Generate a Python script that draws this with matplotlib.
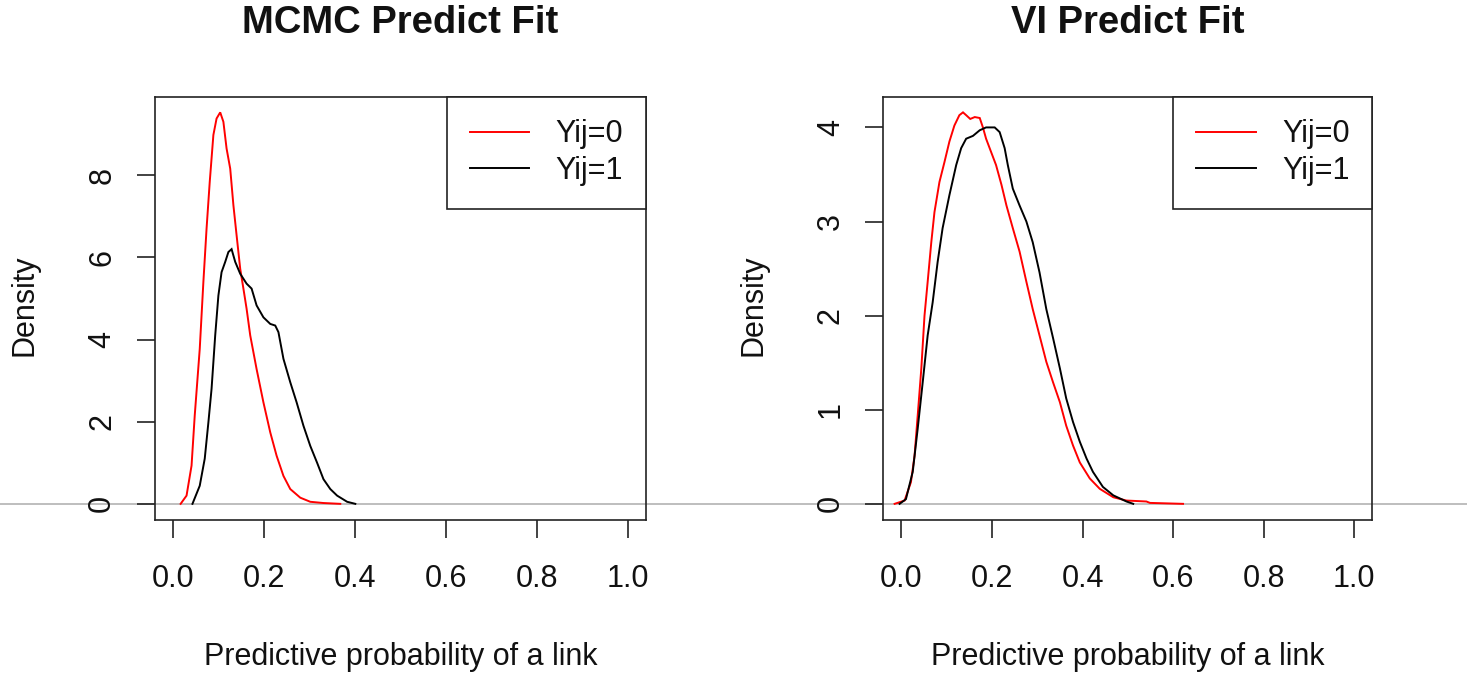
import matplotlib
matplotlib.use("Agg")
import matplotlib.pyplot as plt
from matplotlib.lines import Line2D
from matplotlib import transforms

plt.rcParams["font.family"] = ["Liberation Sans", "DejaVu Sans"]

# ---- density estimates (x = predictive probability, y = density) ----
mcmc_x0 = [0.017, 0.030, 0.041, 0.048, 0.059, 0.067, 0.074, 0.081, 0.089, 0.096,
           0.104, 0.111, 0.118, 0.126, 0.133, 0.140, 0.148, 0.155, 0.162, 0.170,
           0.184, 0.199, 0.214, 0.228, 0.243, 0.258, 0.280, 0.302, 0.331, 0.368]
mcmc_y0 = [0.00, 0.20, 0.93, 2.15, 3.77, 5.40, 6.70, 7.84, 8.98, 9.38,
           9.53, 9.30, 8.65, 8.16, 7.27, 6.54, 5.72, 5.24, 4.75, 4.10,
           3.28, 2.47, 1.74, 1.17, 0.68, 0.36, 0.15, 0.05, 0.02, 0.00]

mcmc_x1 = [0.043, 0.059, 0.070, 0.078, 0.085, 0.093, 0.100, 0.107, 0.115, 0.122,
           0.129, 0.137, 0.148, 0.162, 0.173, 0.184, 0.199, 0.214, 0.225, 0.232,
           0.243, 0.258, 0.272, 0.287, 0.302, 0.317, 0.331, 0.346, 0.361, 0.383, 0.401]
mcmc_y1 = [0.00, 0.44, 1.10, 1.98, 2.80, 4.10, 5.07, 5.64, 5.89, 6.13,
           6.20, 5.89, 5.60, 5.36, 5.24, 4.83, 4.54, 4.38, 4.34, 4.18,
           3.53, 2.96, 2.47, 1.90, 1.41, 1.00, 0.60, 0.36, 0.20, 0.05, 0.00]

vi_x0 = [-0.015, 0.007, 0.021, 0.029, 0.036, 0.044, 0.051, 0.058, 0.066, 0.073,
         0.084, 0.095, 0.106, 0.117, 0.128, 0.136, 0.143, 0.152, 0.162, 0.173,
         0.180, 0.187, 0.198, 0.209, 0.221, 0.232, 0.246, 0.261, 0.276, 0.290,
         0.305, 0.320, 0.335, 0.350, 0.364, 0.379, 0.394, 0.416, 0.438, 0.468,
         0.497, 0.541, 0.549, 0.622]
vi_y0 = [0.00, 0.035, 0.23, 0.51, 0.94, 1.44, 2.00, 2.36, 2.78, 3.10,
         3.42, 3.63, 3.85, 4.02, 4.13, 4.16, 4.13, 4.09, 4.11, 4.10,
         4.00, 3.88, 3.74, 3.60, 3.39, 3.17, 2.93, 2.68, 2.36, 2.07,
         1.79, 1.51, 1.29, 1.08, 0.83, 0.62, 0.44, 0.27, 0.16, 0.07,
         0.035, 0.025, 0.01, 0.00]

vi_x1 = [-0.004, 0.010, 0.025, 0.036, 0.047, 0.058, 0.069, 0.080, 0.091, 0.106,
         0.121, 0.132, 0.143, 0.158, 0.173, 0.187, 0.206, 0.217, 0.228, 0.235,
         0.246, 0.261, 0.276, 0.290, 0.305, 0.320, 0.335, 0.350, 0.364, 0.379,
         0.394, 0.409, 0.423, 0.445, 0.468, 0.497, 0.512]
vi_y1 = [0.00, 0.05, 0.34, 0.80, 1.29, 1.79, 2.14, 2.57, 2.93, 3.28,
         3.60, 3.78, 3.88, 3.91, 3.97, 4.00, 4.00, 3.95, 3.78, 3.60,
         3.35, 3.17, 3.00, 2.78, 2.46, 2.07, 1.76, 1.44, 1.12, 0.87,
         0.66, 0.48, 0.34, 0.18, 0.09, 0.025, 0.00]

titles = ["MCMC Predict Fit", "VI Predict Fit"]
legend_labels = ["Yij=0", "Yij=1"]
series_colors = ["#FF0000", "#000000"]
x_ticks = [0.0, 0.2, 0.4, 0.6, 0.8, 1.0]
x_tick_labels = ["0.0", "0.2", "0.4", "0.6", "0.8", "1.0"]
y_ticks_mcmc = [0, 2, 4, 6, 8]
y_ticks_vi = [0, 1, 2, 3, 4]
x_label = "Predictive probability of a link"
y_label = "Density"

W, H = 1467, 675
fig = plt.figure(figsize=(W / 100, H / 100), dpi=100)
fig.patch.set_facecolor("white")

FS = 22
LW = 1.4

panels = [
    dict(left=154.7, right=646.0, xs=[mcmc_x0, mcmc_x1], ys=[mcmc_y0, mcmc_y1],
         yticks=y_ticks_mcmc, title=titles[0]),
    dict(left=883.3, right=1372.3, xs=[vi_x0, vi_x1], ys=[vi_y0, vi_y1],
         yticks=y_ticks_vi, title=titles[1]),
]
top_px, bottom_px = 96.7, 519.5

axes = []
for p in panels:
    ax = fig.add_axes([p["left"] / W, 1 - bottom_px / H,
                       (p["right"] - p["left"]) / W, (bottom_px - top_px) / H])
    ax.set_facecolor("none")
    handles = []
    for xv, yv, c, lab in zip(p["xs"], p["ys"], series_colors, legend_labels):
        h, = ax.plot(xv, yv, color=c, lw=LW, label=lab, solid_joinstyle="miter")
        handles.append(h)
    ymax = max(max(v) for v in p["ys"])
    ax.set_xlim(-0.04, 1.04)
    ax.set_ylim(-0.04 * ymax, 1.04 * ymax)
    ax.set_xticks(x_ticks)
    ax.set_xticklabels(x_tick_labels)
    ax.set_yticks(p["yticks"])
    ax.set_yticklabels([str(t) for t in p["yticks"]], rotation=90, va="center")
    ax.tick_params(axis="both", length=13, width=1.2, color="#222222",
                   labelsize=FS, labelcolor="#111111")
    ax.tick_params(axis="x", pad=19)
    ax.tick_params(axis="y", pad=14)
    for s in ax.spines.values():
        s.set_linewidth(1.2)
        s.set_color("#222222")
    leg = ax.legend(handles=handles, loc="upper right", borderaxespad=0,
                    frameon=True, fancybox=False, framealpha=1, edgecolor="#222222",
                    fontsize=FS, borderpad=0.74, handlelength=1.96,
                    handletextpad=0.86, labelspacing=0.22)
    leg.get_frame().set_linewidth(1.2)
    for t in leg.get_texts():
        t.set_color("#111111")
    cx = (p["left"] + p["right"]) / 2
    fig.text(cx / W, 1 - 33.3 / H, p["title"], ha="center", va="baseline",
             fontsize=27.5, fontweight="bold", color="#111111")
    fig.text(cx / W, 1 - 665 / H, x_label, ha="center", va="baseline",
             fontsize=FS, color="#111111")
    fig.text((p["left"] - 121.7) / W, 1 - 305.5 / H, y_label, rotation=90,
             rotation_mode="anchor", ha="center", va="baseline",
             fontsize=FS, color="#111111")
    axes.append(ax)

# zero reference line across the full width of the figure
zero_tr = transforms.blended_transform_factory(fig.transFigure, axes[0].transData)
fig.add_artist(Line2D([0, 1], [0, 0], transform=zero_tr, color="#BEBEBE",
                      lw=1.4, zorder=-1))

fig.savefig("out.png", dpi=100, facecolor="white")
